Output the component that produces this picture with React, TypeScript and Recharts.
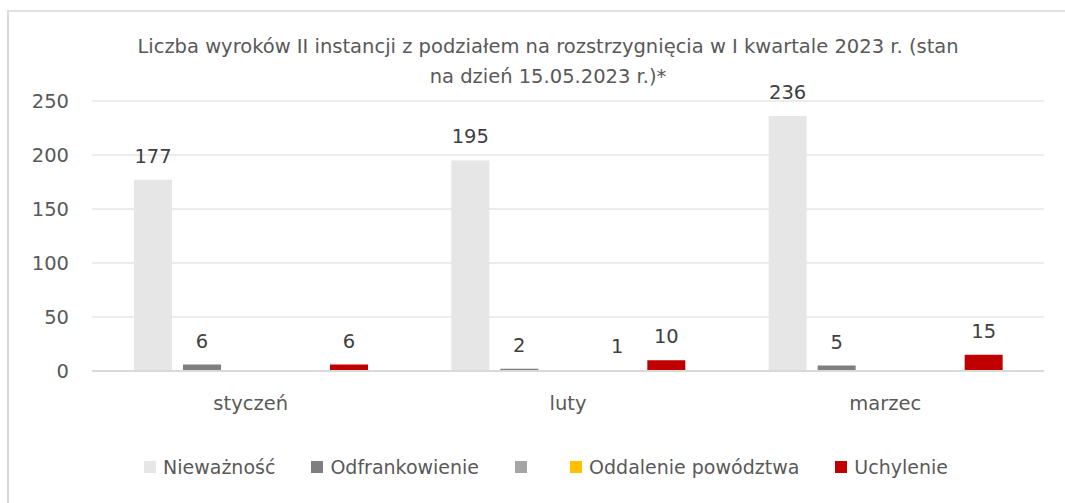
import { BarChart, Bar, XAxis, YAxis, CartesianGrid, LabelList } from 'recharts'

const categories = ['styczeń', 'luty', 'marzec']
const niewaznosc = [177, 195, 236]
const odfrankowienie = [6, 2, 5]
const bezNazwy: (number | null)[] = [null, null, null]
const oddalenie: (number | null)[] = [null, 1, null]
const uchylenie = [6, 10, 15]

const seriesKeys = ['niewaznosc', 'odfrankowienie', 'bezNazwy', 'oddalenie', 'uchylenie']
const seriesNames = ['Nieważność', 'Odfrankowienie', '', 'Oddalenie powództwa', 'Uchylenie']
const seriesColors = ['#e7e6e6', '#7f7f7f', '#a5a5a5', '#ffc000', '#c00000']
const seriesValues = [niewaznosc, odfrankowienie, bezNazwy, oddalenie, uchylenie]

const yTicks = [0, 50, 100, 150, 200, 250]
const titleLines = [
  'Liczba wyroków II instancji z podziałem na rozstrzygnięcia w I kwartale 2023 r. (stan',
  'na dzień 15.05.2023 r.)*',
]

const FONT = '"DejaVu Sans", sans-serif'
const TEXT = '#595959'

const data = categories.map((c, i) => {
  const row: Record<string, string | number | null> = { name: c }
  seriesKeys.forEach((k, s) => {
    row[k] = seriesValues[s][i]
  })
  return row
})

export default function App() {
  return (
    <div
      style={{
        position: 'absolute',
        top: 0,
        left: 0,
        width: 1065,
        height: 503,
        overflow: 'hidden',
        background: '#fff',
        fontFamily: FONT,
      }}
    >
      <div
        style={{
          position: 'absolute',
          left: 7,
          top: 10,
          width: 1080,
          height: 520,
          borderLeft: '2px solid #d9d9d9',
          borderTop: '2px solid #e0e0e0',
        }}
      />
      <div
        style={{
          position: 'absolute',
          left: 0,
          top: 32,
          width: 1096,
          textAlign: 'center',
          fontSize: 19.5,
          lineHeight: '30px',
          color: TEXT,
        }}
      >
        {titleLines.map((t) => (
          <div key={t}>{t}</div>
        ))}
      </div>
      <div style={{ position: 'absolute', left: 0, top: 0 }}>
        <BarChart
          width={1065}
          height={503}
          data={data}
          margin={{ top: 101, right: 21, left: 0, bottom: 102 }}
          barSize={38}
          barGap={11}
        >
          <CartesianGrid vertical={false} stroke="#d9d9d9" />
          <XAxis
            dataKey="name"
            height={30}
            tickLine={false}
            axisLine={{ stroke: '#d9d9d9', strokeWidth: 2 }}
            tickMargin={19}
            tick={{ fill: TEXT, fontSize: 19.5, fontFamily: FONT }}
          />
          <YAxis
            width={92}
            domain={[0, 250]}
            ticks={yTicks}
            axisLine={false}
            tickLine={false}
            tickMargin={17}
            tick={{ fill: TEXT, fontSize: 19.5, fontFamily: FONT }}
          />
          {seriesKeys.map((k, s) => (
            <Bar key={k} dataKey={k} name={seriesNames[s]} fill={seriesColors[s]} isAnimationActive={false}>
              <LabelList
                dataKey={k}
                position="top"
                offset={17}
                formatter={(v: unknown) => (v ? String(v) : '')}
                style={{ fill: '#404040', fontSize: 19.5, fontFamily: FONT }}
              />
            </Bar>
          ))}
        </BarChart>
      </div>
      <div
        style={{
          position: 'absolute',
          left: 0,
          top: 454,
          width: 1092,
          display: 'flex',
          justifyContent: 'center',
          alignItems: 'center',
          fontSize: 19,
          lineHeight: '26px',
          color: TEXT,
        }}
      >
        {seriesNames.map((n, s) => (
          <div key={s} style={{ display: 'flex', alignItems: 'center', marginRight: s < seriesNames.length - 1 ? 36 : 0 }}>
            <span style={{ width: 12, height: 12, background: seriesColors[s], marginRight: 7 }} />
            <span>{n}</span>
          </div>
        ))}
      </div>
    </div>
  )
}
